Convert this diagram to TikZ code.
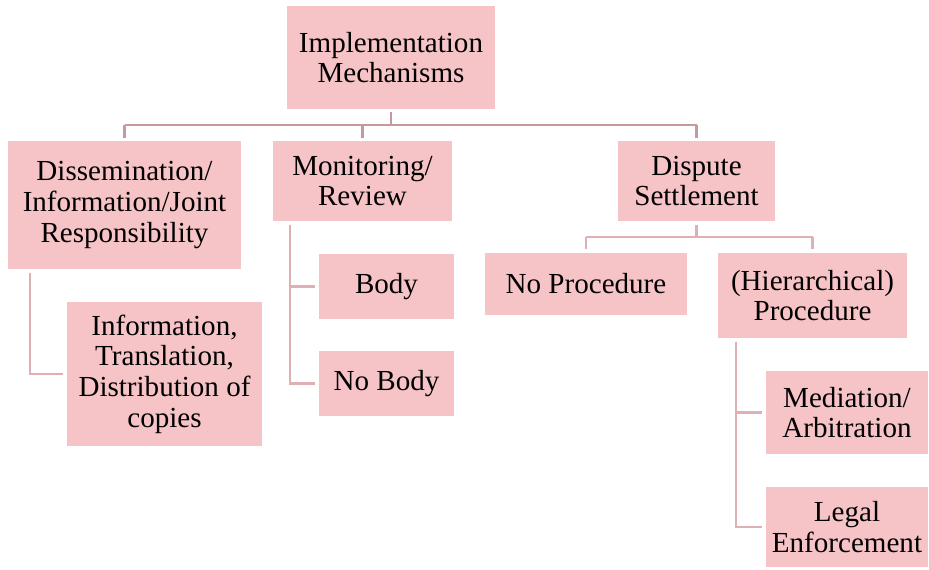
\documentclass[tikz,border=0pt]{standalone}
\usepackage{fontspec}
\setmainfont{Liberation Serif}
\definecolor{boxpink}{RGB}{246,196,199}
\definecolor{linedark}{RGB}{201,152,157}
\definecolor{linelight}{RGB}{222,176,180}
\newcommand\mybox[6]{\node[box, minimum width=#4*0.75pt, minimum height=#5*0.75pt] (#1) at (#2,#3) {#6};}
\begin{document}
\begin{tikzpicture}[x=0.75pt,y=-0.75pt,
  box/.style={fill=boxpink, inner sep=0pt, align=center, font=\fontsize{21.8}{23}\selectfont},
  conntop/.style={draw=linedark, line width=2.1pt, shorten <=2.2pt, shorten >=2.2pt},
  connlow/.style={draw=linelight, line width=2.2pt, shorten <=2.5pt, shorten >=2.8pt}]
\useasboundingbox (0,0) rectangle (929,569);
\mybox{top}{391}{57.5}{208}{103}{Implementation\\Mechanisms}
\mybox{diss}{124.5}{205}{233}{128}{Dissemination/\\Information/Joint\\Responsibility}
\mybox{mon}{362.5}{181}{179}{80}{Monitoring/\\Review}
\mybox{disp}{696.5}{181}{157}{80}{Dispute\\Settlement}
\mybox{info}{164.5}{374}{195}{144}{Information,\\Translation,\\Distribution of\\copies}
\mybox{body}{386.5}{286.5}{135}{65}{Body}
\mybox{nobody}{386.5}{383.5}{135}{65}{No Body}
\mybox{noproc}{586}{284}{202}{62}{No Procedure}
\mybox{hproc}{812.5}{295.5}{189}{85}{(Hierarchical)\\Procedure}
\mybox{med}{847}{412.5}{162}{83}{Mediation/\\Arbitration}
\mybox{legal}{847}{527}{162}{80}{Legal\\Enforcement}
% top level connectors
\coordinate (bus) at (0,125);
\draw[conntop, shorten >=0pt] (top.south) -- (top.south |- bus);
\draw[draw=linedark, line width=2.1pt] (diss.north |- bus) -- (disp.north |- bus);
\draw[conntop, shorten <=0pt] (diss.north |- bus) -- (diss.north);
\draw[conntop, shorten <=0pt] (mon.north |- bus) -- (mon.north);
\draw[conntop, shorten <=0pt] (disp.north |- bus) -- (disp.north);
% dispute settlement
\coordinate (bus2) at (0,237);
\draw[connlow, shorten >=0pt] (disp.south) -- (disp.south |- bus2);
\draw[draw=linelight, line width=2.2pt] (noproc.north |- bus2) -- (hproc.north |- bus2);
\draw[connlow, shorten <=0pt] (noproc.north |- bus2) -- (noproc.north);
\draw[connlow, shorten <=0pt] (hproc.north |- bus2) -- (hproc.north);
% side branches
\coordinate (dv) at (30,0);
\coordinate (mv) at (290,0);
\coordinate (hv) at (736,0);
\draw[connlow] (diss.south -| dv) |- (info.west);
\draw[connlow] (mon.south -| mv) |- (body.west);
\draw[connlow] (mon.south -| mv) |- (nobody.west);
\draw[connlow] (hproc.south -| hv) |- (med.west);
\draw[connlow] (hproc.south -| hv) |- (legal.west);
\end{tikzpicture}
\end{document}
